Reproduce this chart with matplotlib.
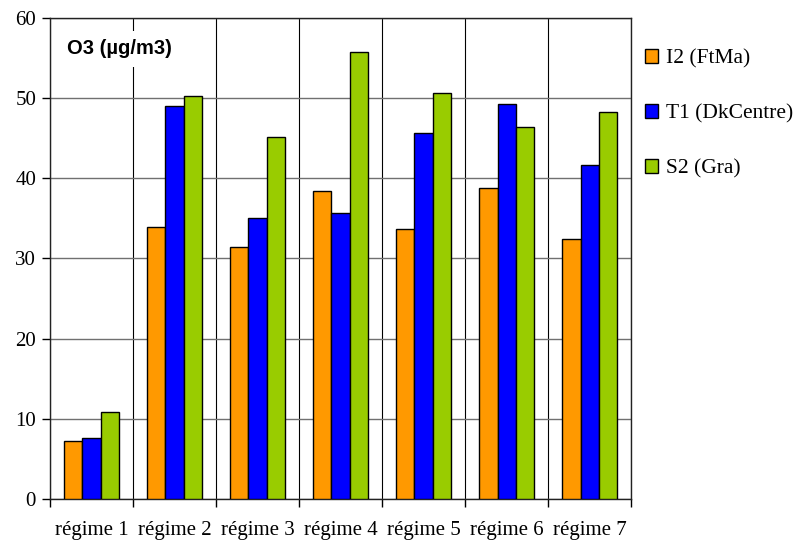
import numpy as np
import matplotlib
matplotlib.use('Agg')
import matplotlib.pyplot as plt

regimes = ['régime 1', 'régime 2', 'régime 3', 'régime 4', 'régime 5', 'régime 6', 'régime 7']
i2_ftma = [7.2, 33.9, 31.4, 38.4, 33.6, 38.7, 32.4]
t1_dkcentre = [7.6, 49.0, 35.0, 35.6, 45.6, 49.2, 41.6]
s2_gra = [10.8, 50.2, 45.1, 55.7, 50.6, 46.4, 48.2]
series_names = ['I2 (FtMa)', 'T1 (DkCentre)', 'S2 (Gra)']
colors = ['#FF9900', '#0000FF', '#99CC00']

plt.rcParams['font.family'] = ['Liberation Serif', 'DejaVu Serif']

fig = plt.figure(figsize=(8, 5.44), dpi=100)
ax = fig.add_axes([0.0625, 0.0827, 0.7265, 0.885])

x = np.arange(1, len(regimes) + 1)
w = 0.22
for k, (vals, name, c) in enumerate(zip([i2_ftma, t1_dkcentre, s2_gra], series_names, colors)):
    ax.bar(x + (k - 1) * w, vals, w, color=c, edgecolor='black', linewidth=1,
           label=name, zorder=3)

ax.set_xlim(0.5, len(regimes) + 0.5)
ax.set_ylim(0, 60)
ax.set_yticks(np.arange(0, 61, 10))
ax.set_xticks(np.arange(0.5, len(regimes) + 1, 1))
ax.set_xticklabels([])
ax.set_xticks(x, minor=True)
ax.set_xticklabels(regimes, minor=True)
ax.tick_params(axis='x', which='major', length=6, direction='out', width=1)
ax.tick_params(axis='x', which='minor', length=0, pad=16, labelsize=15)
ax.tick_params(axis='y', length=6, direction='out', width=1, labelsize=15, pad=4)

ax.grid(axis='y', color='#707070', linewidth=1, zorder=0)
ax.grid(axis='x', which='major', color='black', linewidth=0.8, zorder=0)
ax.set_axisbelow(True)
for s in ax.spines.values():
    s.set_color('#222222')
    s.set_linewidth(1)

ax.text(0.03, 0.935, 'O3 (µg/m3)', transform=ax.transAxes, fontsize=14.5,
        fontweight='bold', family='Liberation Sans', va='center', ha='left',
        bbox=dict(facecolor='white', edgecolor='none', pad=6), zorder=5)

fig.legend(loc='upper left', bbox_to_anchor=(645 / 800, 1 - 49 / 544),
           frameon=False, fontsize=15.5, borderpad=0, labelspacing=1.65,
           handlelength=0.62, handleheight=0.62, handletextpad=0.35,
           borderaxespad=0)

fig.savefig('out.png', dpi=100)
